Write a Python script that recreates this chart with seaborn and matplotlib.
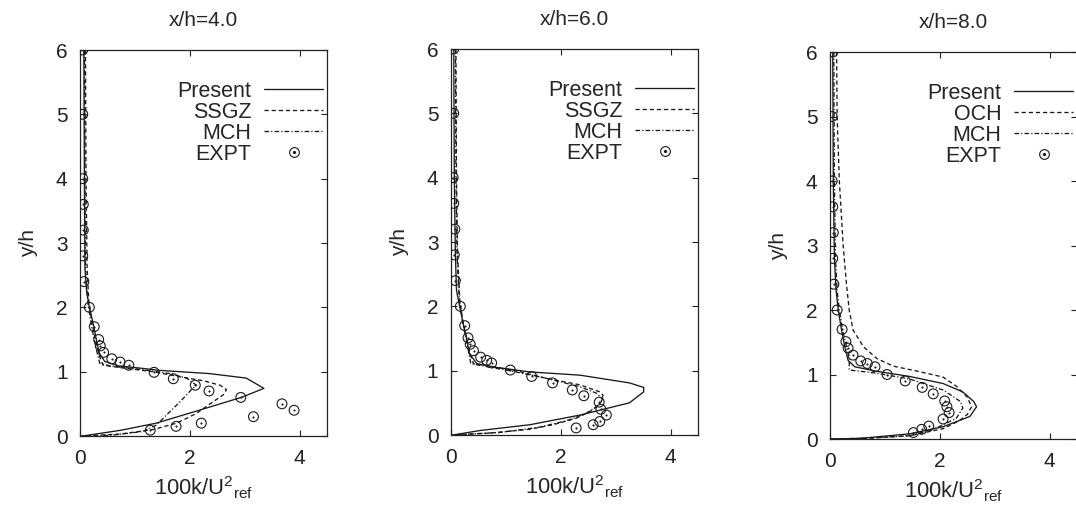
import matplotlib
matplotlib.use("Agg")
import matplotlib.pyplot as plt
import numpy as np
import pandas as pd
import seaborn as sns
from matplotlib.lines import Line2D
from matplotlib.legend_handler import HandlerTuple

# ---------------- data ----------------
titles = ["x/h=4.0", "x/h=6.0", "x/h=8.0"]
model_names = [["Present", "SSGZ", "MCH", "EXPT"],
               ["Present", "SSGZ", "MCH", "EXPT"],
               ["Present", "OCH", "MCH", "EXPT"]]
x_ticks = [0, 2, 4]
y_ticks = [0, 1, 2, 3, 4, 5, 6]

# x/h = 4.0
present1_x = [0.07, 0.08, 0.09, 0.12, 0.17, 0.24, 0.30, 0.35, 0.45, 0.70, 1.15, 1.45, 2.36, 3.03, 3.35, 2.94, 2.17, 1.39, 0.75, 0.05]
present1_y = [6.0, 4.0, 2.6, 2.25, 2.0, 1.75, 1.49, 1.29, 1.16, 1.09, 1.05, 1.02, 0.97, 0.90, 0.74, 0.60, 0.40, 0.20, 0.09, 0.0]
ssgz1_x = [0.10, 0.11, 0.13, 0.16, 0.22, 0.29, 0.36, 0.42, 0.85, 1.33, 1.76, 2.24, 2.55, 2.67, 2.61, 2.42, 2.12, 1.76, 1.33, 0.73, 0.02]
ssgz1_y = [6.0, 4.0, 2.6, 2.1, 1.75, 1.45, 1.23, 1.10, 1.05, 1.00, 0.93, 0.86, 0.79, 0.72, 0.64, 0.53, 0.35, 0.20, 0.10, 0.03, 0.0]
mch1_x = [0.08, 0.09, 0.10, 0.14, 0.20, 0.27, 0.33, 0.36, 0.55, 1.15, 1.64, 1.94, 2.12, 2.03, 1.82, 1.58, 1.39, 1.15, 0.55, 0.02]
mch1_y = [6.0, 4.0, 2.6, 2.1, 1.75, 1.45, 1.23, 1.13, 1.09, 1.03, 0.97, 0.90, 0.79, 0.72, 0.53, 0.33, 0.17, 0.07, 0.01, 0.0]
expt1_x = [0.05, 0.05, 0.05, 0.06, 0.06, 0.05, 0.07, 0.17, 0.26, 0.34, 0.37, 0.43, 0.58, 0.73, 0.89, 1.35, 1.70, 2.10, 2.35, 2.93, 3.68, 3.90, 3.16, 2.21, 1.75, 1.28]
expt1_y = [6.0, 5.0, 4.0, 3.6, 3.2, 2.8, 2.4, 2.0, 1.70, 1.50, 1.40, 1.30, 1.20, 1.15, 1.10, 0.99, 0.89, 0.79, 0.70, 0.60, 0.50, 0.40, 0.30, 0.20, 0.15, 0.09]

# x/h = 6.0
present2_x = [0.05, 0.06, 0.08, 0.10, 0.16, 0.22, 0.29, 0.33, 0.47, 0.83, 1.44, 2.35, 3.25, 3.51, 3.51, 3.25, 2.35, 1.44, 0.53, 0.03]
present2_y = [6.0, 4.0, 2.8, 2.25, 1.99, 1.74, 1.48, 1.27, 1.11, 1.05, 0.98, 0.93, 0.81, 0.74, 0.67, 0.50, 0.31, 0.16, 0.07, 0.0]
ssgz2_x = [0.09, 0.10, 0.12, 0.16, 0.22, 0.29, 0.35, 0.41, 1.13, 1.74, 2.35, 2.71, 2.77, 2.74, 2.59, 2.28, 1.86, 1.44, 0.71, 0.02]
ssgz2_y = [6.0, 4.0, 2.8, 2.1, 1.75, 1.48, 1.25, 1.11, 1.01, 0.88, 0.78, 0.67, 0.62, 0.52, 0.39, 0.26, 0.16, 0.09, 0.03, 0.0]
mch2_x = [0.08, 0.09, 0.11, 0.15, 0.21, 0.28, 0.33, 0.36, 0.60, 1.13, 1.74, 2.35, 2.65, 2.76, 2.68, 2.45, 2.10, 1.60, 0.90, 0.02]
mch2_y = [6.0, 4.0, 2.8, 2.1, 1.75, 1.48, 1.25, 1.11, 1.07, 0.99, 0.88, 0.75, 0.65, 0.56, 0.46, 0.33, 0.22, 0.12, 0.04, 0.0]
expt2_x = [0.05, 0.05, 0.04, 0.05, 0.07, 0.06, 0.08, 0.17, 0.25, 0.31, 0.35, 0.41, 0.54, 0.65, 0.74, 1.08, 1.47, 1.85, 2.21, 2.42, 2.70, 2.73, 2.83, 2.71, 2.59, 2.28]
expt2_y = [6.0, 5.0, 4.0, 3.6, 3.2, 2.8, 2.4, 2.0, 1.70, 1.51, 1.41, 1.31, 1.21, 1.16, 1.12, 1.01, 0.91, 0.81, 0.70, 0.61, 0.51, 0.40, 0.31, 0.21, 0.16, 0.11]

# x/h = 8.0
present3_x = [0.05, 0.06, 0.08, 0.11, 0.15, 0.21, 0.27, 0.33, 0.45, 0.85, 1.45, 2.06, 2.42, 2.62, 2.67, 2.55, 2.06, 1.45, 0.55, 0.0]
present3_y = [6.0, 4.0, 2.8, 2.31, 2.0, 1.69, 1.43, 1.22, 1.12, 1.05, 0.97, 0.86, 0.73, 0.58, 0.50, 0.35, 0.19, 0.08, 0.01, 0.0]
och3_x = [0.12, 0.13, 0.17, 0.24, 0.30, 0.35, 0.42, 0.61, 0.85, 1.15, 1.60, 2.06, 2.30, 2.50, 2.58, 2.50, 2.35, 2.06, 1.45, 0.70, 0.0]
och3_y = [6.0, 5.0, 4.0, 3.0, 2.4, 2.0, 1.69, 1.43, 1.25, 1.13, 1.05, 0.96, 0.82, 0.65, 0.50, 0.38, 0.28, 0.16, 0.05, 0.01, 0.0]
mch3_x = [0.07, 0.08, 0.10, 0.13, 0.17, 0.23, 0.30, 0.35, 0.35, 0.85, 1.45, 2.06, 2.38, 2.42, 2.30, 1.94, 1.45, 0.55, 0.0]
mch3_y = [6.0, 4.0, 2.8, 2.3, 2.0, 1.69, 1.43, 1.28, 1.07, 1.02, 0.93, 0.76, 0.58, 0.48, 0.32, 0.17, 0.05, 0.01, 0.0]
expt3_x = [0.05, 0.04, 0.04, 0.05, 0.06, 0.05, 0.07, 0.13, 0.22, 0.29, 0.33, 0.42, 0.56, 0.68, 0.82, 1.04, 1.37, 1.68, 1.88, 2.09, 2.13, 2.17, 2.06, 1.80, 1.67, 1.52]
expt3_y = [6.0, 5.0, 4.0, 3.6, 3.2, 2.8, 2.4, 2.0, 1.70, 1.51, 1.41, 1.30, 1.21, 1.17, 1.12, 1.00, 0.90, 0.80, 0.70, 0.59, 0.50, 0.41, 0.31, 0.20, 0.15, 0.10]

panels = [
    [(present1_x, present1_y), (ssgz1_x, ssgz1_y), (mch1_x, mch1_y), (expt1_x, expt1_y)],
    [(present2_x, present2_y), (ssgz2_x, ssgz2_y), (mch2_x, mch2_y), (expt2_x, expt2_y)],
    [(present3_x, present3_y), (och3_x, och3_y), (mch3_x, mch3_y), (expt3_x, expt3_y)],
]

# ---------------- style ----------------
sns.set_style("ticks")
plt.rcParams.update({
    "xtick.direction": "in", "ytick.direction": "in",
    "xtick.top": True, "ytick.right": True,
    "xtick.major.size": 4.5, "ytick.major.size": 4.5,
    "xtick.major.width": 0.8, "ytick.major.width": 0.8,
    "xtick.major.pad": 9, "ytick.major.pad": 9,
    "axes.linewidth": 0.9,
    "axes.edgecolor": "#222222",
    "xtick.color": "#222222", "ytick.color": "#222222",
    "mathtext.fontset": "custom",
    "mathtext.rm": "Liberation Sans",
    "mathtext.it": "Liberation Sans:italic",
})
plt.rcParams["font.family"] = ["Liberation Sans", "DejaVu Sans"]

line_col = "#1a1a1a"
W, H = 1076, 511
fig = plt.figure(figsize=(W / 100, H / 100), dpi=100)
fig.patch.set_facecolor("white")

# axes boxes in pixels: left, right, top, bottom
boxes = [(80, 327, 50, 436), (451, 698, 49, 435), (830, 1077, 52, 439)]

styles = [dict(linestyle="-"),
          dict(linestyle=(0, (3.2, 2.2))),
          dict(linestyle=(0, (3.5, 1.6, 0.9, 1.6)))]

for i, (box, data, names, title) in enumerate(zip(boxes, panels, model_names, titles)):
    l, r, t, b = box
    ax = fig.add_axes([l / W, (H - b) / H, (r - l) / W, (b - t) / H])
    handles = []
    for (xs, ys), st in zip(data[:3], styles):
        df = pd.DataFrame({"x": xs, "y": ys})
        sns.lineplot(data=df, x="x", y="y", sort=False, estimator=None,
                     color=line_col, lw=0.95, ax=ax, **st)
        handles.append(Line2D([], [], color=line_col, lw=0.95, **st))
    ex, ey = data[3]
    dfe = pd.DataFrame({"x": ex, "y": ey})
    sns.scatterplot(data=dfe, x="x", y="y", marker="o", s=50,
                    facecolors="none", edgecolor=line_col, linewidth=0.8, ax=ax, zorder=3)
    sns.scatterplot(data=dfe, x="x", y="y", marker="o", s=1.6,
                    color=line_col, edgecolor=line_col, linewidth=0.2, ax=ax, zorder=3)
    handles.append((Line2D([], [], marker="o", ms=7.0, mfc="none", mec=line_col, mew=0.8, ls="none"),
                    Line2D([], [], marker="o", ms=1.3, mfc=line_col, mec=line_col, ls="none")))

    ax.set_xlim(0, 4.5)
    ax.set_ylim(0, 6)
    ax.set_xticks(x_ticks)
    ax.set_yticks(y_ticks)
    ax.tick_params(labelsize=15)
    ax.set_xlabel(r"100k/U$^{2}{}_{\mathrm{ref}}$", fontsize=15.8, labelpad=5)
    ax.set_ylabel("y/h", fontsize=15, labelpad=13)
    ax.set_title(title, fontsize=15, pad=17.5)
    ax.legend(handles, names, loc="upper right", bbox_to_anchor=(0.985, 0.92),
              frameon=False, markerfirst=False, fontsize=15.5, handlelength=2.75,
              handletextpad=0.6, labelspacing=0.0, borderpad=0, borderaxespad=0,
              handler_map={tuple: HandlerTuple(ndivide=1)})

fig.savefig("out.png", dpi=100, facecolor="white")
